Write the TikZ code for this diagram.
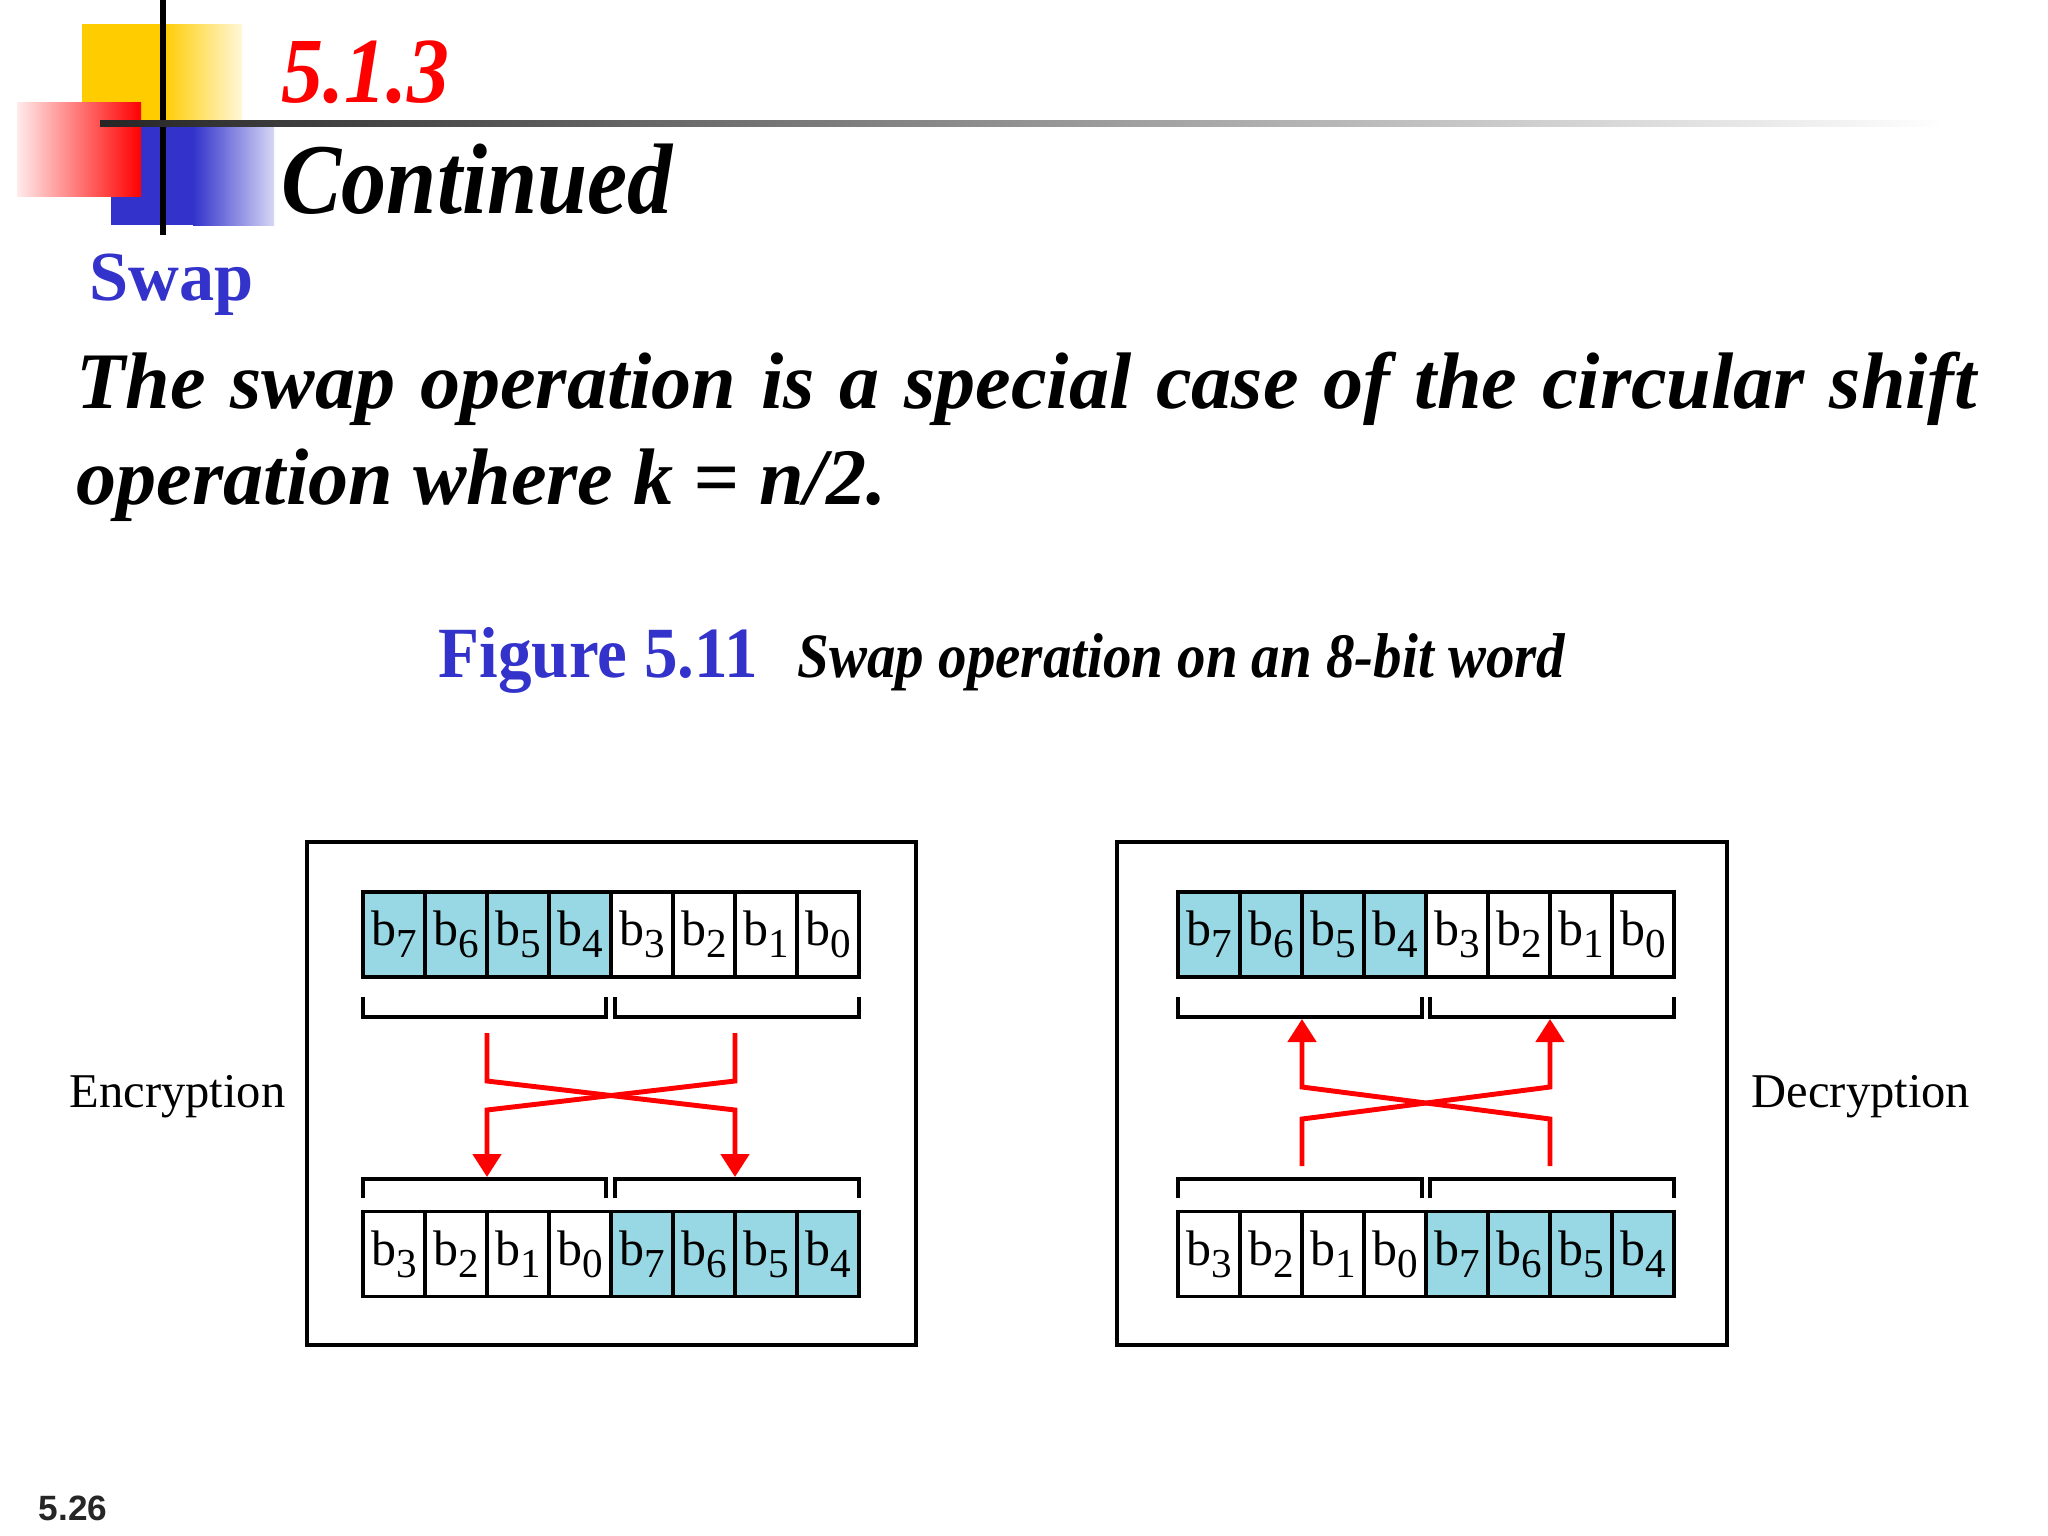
\documentclass[tikz,border=0pt]{standalone}
\usepackage{fontspec}
\usepackage{tikz}
\usetikzlibrary{arrows.meta}
\setmainfont{Liberation Serif}
\newfontfamily\titlefont[FakeStretch=0.9]{Liberation Serif}
\newfontfamily\figfont[FakeStretch=0.93]{Liberation Serif}
\newfontfamily\slidenumfont{Liberation Sans}
\definecolor{slideblue}{RGB}{51,51,204}
\definecolor{bitcyan}{RGB}{152,216,228}
\definecolor{logoyellow}{RGB}{255,204,0}
\newcommand{\bitlab}[1]{b\raisebox{-3.4pt}{\fontsize{11.7}{12}\selectfont #1}}
\tikzset{
  bitcell/.style={draw, line width=0.9pt, minimum width=0.62cm, minimum height=0.85cm, inner sep=0pt, font=\fontsize{14.2}{16}\selectfont},
  hicell/.style={bitcell, fill=bitcyan},
  panel/.style={draw, line width=0.9pt},
  brace/.style={line width=0.9pt},
  swaparrow/.style={red, line width=1.4pt, -{Triangle[length=0.23cm,width=0.28cm]}},
  sidelabel/.style={anchor=base west, inner sep=0pt, font=\fontsize{13.8}{16}\selectfont}
}
\begin{document}
\begin{tikzpicture}[x=0.01cm,y=-0.01cm]
\useasboundingbox[fill=white] (0,0) rectangle (2048,1536);

% logo
\fill[logoyellow] (82,24) rectangle (163,121);
\shade[left color=logoyellow, right color=logoyellow!15] (163,24) rectangle (242,121);
\fill[slideblue] (111,121) rectangle (193,225);
\shade[left color=slideblue, right color=slideblue!20] (193,121) rectangle (274,225);
\shade[left color=red!8, right color=red] (17,102) rectangle (141,196);
\draw[line width=1.5pt] (163,0) -- (163,235);
\shade[left color=black!85, middle color=black!55, right color=white] (100,120) rectangle (1946,126);

% titles
\node[anchor=base west, inner sep=0pt, text=red, font=\titlefont\bfseries\itshape\fontsize{26.5}{30}\selectfont] (secnum) at (281,102) {5.1.3};
\node[anchor=base west, inner sep=0pt, font=\titlefont\bfseries\itshape\fontsize{28.5}{32}\selectfont] (sectitle) at (281,213) {Continued};
\node[anchor=base west, inner sep=0pt, text=slideblue, font=\bfseries\fontsize{20}{24}\selectfont] (topic) at (89,300) {Swap};
\node[anchor=north west, inner sep=0pt, text width=18.99cm, align=justify, font=\bfseries\itshape\fontsize{22.8}{27.3}\selectfont] (body) at (76,351)
  {The swap operation is a special case of the circular shift operation where k = n/2.};
\node[anchor=base west, inner sep=0pt, text=slideblue, font=\figfont\bfseries\fontsize{20.5}{24}\selectfont] (fignum) at (438,677) {Figure 5.11};
\node[anchor=base west, inner sep=0pt, font=\titlefont\bfseries\itshape\fontsize{18}{22}\selectfont] (figcap) at (797,677) {Swap operation on an 8-bit word};

% encryption panel
\draw[panel] (307,842) rectangle (916,1345);
\foreach \lab/\sty [count=\i] in {7/hicell,6/hicell,5/hicell,4/hicell,3/bitcell,2/bitcell,1/bitcell,0/bitcell}
  \node[\sty] (et\i) at ({332+62*\i},934.5) {\bitlab{\lab}};
\foreach \lab/\sty [count=\i] in {3/bitcell,2/bitcell,1/bitcell,0/bitcell,7/hicell,6/hicell,5/hicell,4/hicell}
  \node[\sty] (eb\i) at ({332+62*\i},1254) {\bitlab{\lab}};
\draw[brace] (363,997) -- (363,1017) -- (606,1017) -- (606,997);
\draw[brace] (615,997) -- (615,1017) -- (859,1017) -- (859,997);
\draw[brace] (363,1198) -- (363,1179) -- (606,1179) -- (606,1198);
\draw[brace] (615,1198) -- (615,1179) -- (859,1179) -- (859,1198);
\coordinate (esrcl) at (487,1033);
\coordinate (esrcr) at (735,1033);
\coordinate (edstl) at (487,1177);
\coordinate (edstr) at (735,1177);
\draw[swaparrow] (esrcl) -- ++(0,48) -- ++(248,29) -- (edstr);
\draw[swaparrow] (esrcr) -- ++(0,48) -- ++(-248,29) -- (edstl);
\node[sidelabel] (enc) at (69,1107) {Encryption};

% decryption panel
\draw[panel] (1117,842) rectangle (1727,1345);
\foreach \lab/\sty [count=\i] in {7/hicell,6/hicell,5/hicell,4/hicell,3/bitcell,2/bitcell,1/bitcell,0/bitcell}
  \node[\sty] (dt\i) at ({1147+62*\i},934.5) {\bitlab{\lab}};
\foreach \lab/\sty [count=\i] in {3/bitcell,2/bitcell,1/bitcell,0/bitcell,7/hicell,6/hicell,5/hicell,4/hicell}
  \node[\sty] (db\i) at ({1147+62*\i},1254) {\bitlab{\lab}};
\draw[brace] (1178,997) -- (1178,1017) -- (1422,1017) -- (1422,997);
\draw[brace] (1430,997) -- (1430,1017) -- (1674,1017) -- (1674,997);
\draw[brace] (1178,1198) -- (1178,1179) -- (1422,1179) -- (1422,1198);
\draw[brace] (1430,1198) -- (1430,1179) -- (1674,1179) -- (1674,1198);
\coordinate (dsrcl) at (1302,1166);
\coordinate (dsrcr) at (1550,1166);
\coordinate (ddstl) at (1302,1019);
\coordinate (ddstr) at (1550,1019);
\draw[swaparrow] (dsrcl) -- ++(0,-47) -- ++(248,-32) -- (ddstr);
\draw[swaparrow] (dsrcr) -- ++(0,-47) -- ++(-248,-32) -- (ddstl);
\node[sidelabel] (dec) at (1751,1107) {Decryption};

% slide number
\node[anchor=base west, inner sep=0pt, text=black!85, font=\slidenumfont\bfseries\fontsize{10}{12}\selectfont] (slideno) at (38,1520) {5.26};
\end{tikzpicture}
\end{document}
